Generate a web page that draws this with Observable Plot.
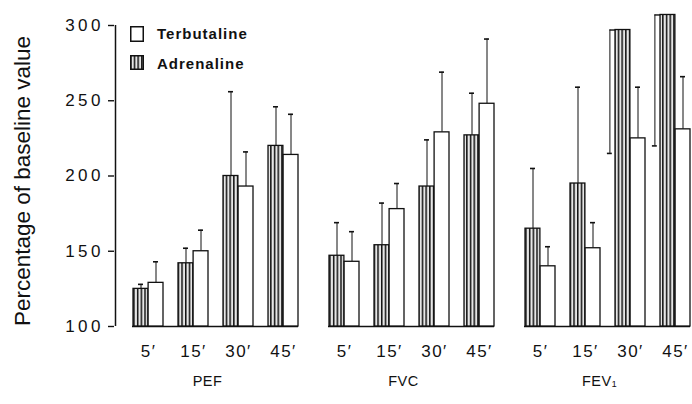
<!DOCTYPE html>
<html><head><meta charset="utf-8">
<script src="https://cdn.jsdelivr.net/npm/d3@7"></script>
<script src="https://cdn.jsdelivr.net/npm/@observablehq/plot@0.6"></script>
<style>
body{margin:0;background:#fff;}
#wrap{position:relative;width:692px;height:404px;overflow:hidden;font-family:"Liberation Sans",Arial,sans-serif;color:#111;}
#wrap svg{display:block;}
.ytitle{position:absolute;left:23px;top:181px;transform:translate(-50%,-50%) rotate(-90deg);white-space:nowrap;font-size:22.5px;}
.legbox{position:absolute;}
.legtext{position:absolute;left:157px;font-size:15px;line-height:15px;font-weight:bold;letter-spacing:1px;white-space:nowrap;}
g[aria-label="y-axis tick label"] text{letter-spacing:3.5px;}
g[aria-label="x-axis tick label"] text{letter-spacing:1.5px;}
g[aria-label="fx-axis tick label"] text{letter-spacing:0.5px;}
</style></head><body><div id="wrap"></div>
<script>
const measures = ["PEF", "FVC", "FEV₁"];
const times = ["5′", "15′", "30′", "45′"];
const yTicks = [100, 150, 200, 250, 300];

const adrenalinePEF = [125, 142, 200, 220];
const adrenalineFVC = [147, 154, 193, 227];
const adrenalineFEV1 = [165, 195, 297, 307];
const terbutalinePEF = [129, 150, 193, 214];
const terbutalineFVC = [143, 178, 229, 248];
const terbutalineFEV1 = [140, 152, 225, 231];

const adrenalineErrPEF = [3, 10, 56, 26];
const adrenalineErrFVC = [22, 28, 31, 28];
const adrenalineErrFEV1 = [40, 64, 82, 87];
const terbutalineErrPEF = [14, 14, 23, 27];
const terbutalineErrFVC = [20, 17, 40, 43];
const terbutalineErrFEV1 = [13, 17, 34, 35];

// adrenaline error bars that the original draws downwards
const drawnDown = ["FEV₁|30′", "FEV₁|45′"];

const adrVals = [adrenalinePEF, adrenalineFVC, adrenalineFEV1];
const terVals = [terbutalinePEF, terbutalineFVC, terbutalineFEV1];
const adrErrs = [adrenalineErrPEF, adrenalineErrFVC, adrenalineErrFEV1];
const terErrs = [terbutalineErrPEF, terbutalineErrFVC, terbutalineErrFEV1];

const adr = [], ter = [];
measures.forEach((m, i) => times.forEach((t, j) => {
  adr.push({m, t, v: adrVals[i][j], e: adrErrs[i][j], down: drawnDown.includes(m + "|" + t)});
  ter.push({m, t, v: terVals[i][j], e: terErrs[i][j]});
}));
const adrUp = adr.filter(d => !d.down);
const adrDown = adr.filter(d => d.down);

const ink = "#111";
const chart = Plot.plot({
  width: 692, height: 404,
  marginTop: 25, marginBottom: 78, marginLeft: 132, marginRight: 2,
  style: {fontFamily: "Liberation Sans, Arial, sans-serif", color: ink, background: "white"},
  fx: {domain: measures, paddingInner: 0.154, paddingOuter: 0, label: null},
  x: {domain: times, paddingInner: 1/3, paddingOuter: 0, label: null},
  y: {domain: [100, 300], label: null},
  marks: [
    Plot.ruleY([100], {stroke: ink, strokeWidth: 1.6}),
    Plot.ruleX([{m: "PEF", t: "5′"}], {fx: "m", x: "t", y1: 100, y2: 300, dx: -33, stroke: ink, strokeWidth: 1.5}),
    Plot.axisY({ticks: yTicks, tickSize: 6, tickPadding: 4.5, dx: -18, fontSize: 17, strokeWidth: 1.4, label: null}),
    Plot.axisX({tickSize: 0, tickPadding: 18, fontSize: 17, label: null}),
    Plot.axisFx({anchor: "bottom", tickSize: 0, tickPadding: 49, dx: -8, fontSize: 14.5, label: null}),
    // error bars (upwards)
    Plot.ruleX(adrUp, {fx: "m", x: "t", y1: "v", y2: d => d.v + d.e, dx: -7.5, stroke: ink, strokeWidth: 1}),
    Plot.tickY(adrUp, {fx: "m", x: "t", y: d => d.v + d.e, insetLeft: 5, insetRight: 20, stroke: ink, strokeWidth: 1.6}),
    Plot.ruleX(ter, {fx: "m", x: "t", y1: "v", y2: d => d.v + d.e, dx: 7.5, stroke: ink, strokeWidth: 1}),
    Plot.tickY(ter, {fx: "m", x: "t", y: d => d.v + d.e, insetLeft: 20, insetRight: 5, stroke: ink, strokeWidth: 1.6}),
    // error bars drawn downwards, left of the bar
    Plot.ruleX(adrDown, {fx: "m", x: "t", y1: d => d.v - d.e, y2: "v", dx: -20.6, stroke: ink, strokeWidth: 1}),
    Plot.tickY(adrDown, {fx: "m", x: "t", y: d => d.v - d.e, insetLeft: -8.1, insetRight: 33.2, stroke: ink, strokeWidth: 1.6}),
    Plot.tickY(adrDown, {fx: "m", x: "t", y: "v", insetLeft: -5.6, insetRight: 29, stroke: ink, strokeWidth: 1.4}),
    // bars
    Plot.barY(adr, {fx: "m", x: "t", y1: 100, y2: "v", insetRight: 15.1, fill: "url(#stripes)", stroke: ink, strokeWidth: 1.3}),
    Plot.barY(ter, {fx: "m", x: "t", y1: 100, y2: "v", insetLeft: 15.1, fill: "white", stroke: ink, strokeWidth: 1.3})
  ]
});

const ns = "http://www.w3.org/2000/svg";
function stripeDefs(id) {
  const defs = document.createElementNS(ns, "defs");
  const p = document.createElementNS(ns, "pattern");
  p.setAttribute("id", id);
  p.setAttribute("patternUnits", "userSpaceOnUse");
  p.setAttribute("width", "3.7");
  p.setAttribute("height", "10");
  const bg = document.createElementNS(ns, "rect");
  bg.setAttribute("width", "3.7"); bg.setAttribute("height", "10"); bg.setAttribute("fill", "#e6e6e6");
  const ln = document.createElementNS(ns, "rect");
  ln.setAttribute("width", "1.5"); ln.setAttribute("height", "10"); ln.setAttribute("fill", "#111");
  p.appendChild(bg); p.appendChild(ln); defs.appendChild(p);
  return defs;
}
const svg = chart.tagName.toLowerCase() === "svg" ? chart : chart.querySelector("svg");
svg.insertBefore(stripeDefs("stripes"), svg.firstChild);

const wrap = document.getElementById("wrap");
wrap.appendChild(chart);

// y title
const yt = document.createElement("div");
yt.className = "ytitle";
yt.textContent = "Percentage of baseline value";
wrap.appendChild(yt);

// legend
function legendItem(top, label, fill, boxTop, boxH) {
  const box = document.createElementNS(ns, "svg");
  box.setAttribute("class", "legbox");
  box.setAttribute("width", "15"); box.setAttribute("height", String(boxH + 1));
  box.style.position = "absolute"; box.style.left = "129.5px"; box.style.top = boxTop + "px";
  if (fill !== "white") box.appendChild(stripeDefs("stripesLegend"));
  const r = document.createElementNS(ns, "rect");
  r.setAttribute("x", "0.75"); r.setAttribute("y", "0.75");
  r.setAttribute("width", "12.5"); r.setAttribute("height", String(boxH - 0.5));
  r.setAttribute("fill", fill); r.setAttribute("stroke", ink); r.setAttribute("stroke-width", "1.5");
  box.appendChild(r);
  wrap.appendChild(box);
  const tx = document.createElement("div");
  tx.className = "legtext"; tx.style.top = top + "px"; tx.textContent = label;
  wrap.appendChild(tx);
}
legendItem(26, "Terbutaline", "white", 26, 15);
legendItem(55.5, "Adrenaline", "url(#stripesLegend)", 55, 14);
</script></body></html>
